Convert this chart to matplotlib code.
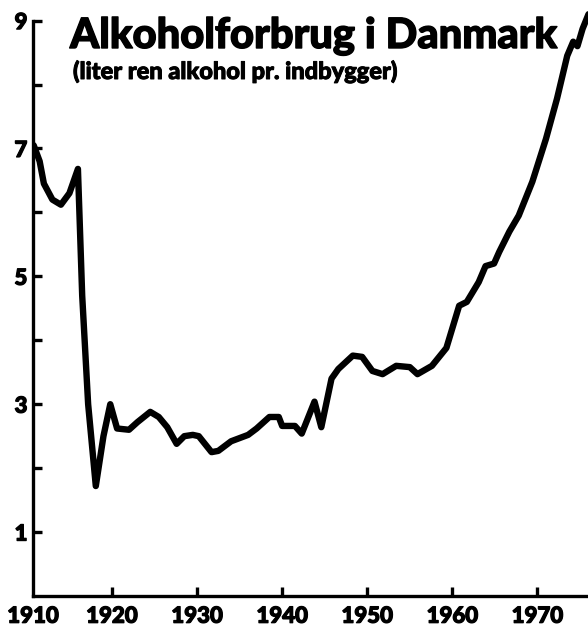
import numpy as np
import matplotlib.pyplot as plt
from matplotlib import transforms
import matplotlib.patheffects as pe

# liter ren alkohol pr. indbygger
years = [1910.8, 1911.5, 1912, 1913, 1914, 1915, 1916, 1916.5, 1917.2, 1918.1,
         1919, 1919.8, 1920.6, 1922, 1923, 1924.5, 1925.5, 1926.5, 1927.6, 1928.5,
         1929.5, 1930.2, 1931.7, 1932.5, 1934, 1936, 1937, 1938.5, 1939.6, 1940,
         1941.5, 1942.3, 1943.8, 1944.6, 1945.8, 1946.6, 1948.3, 1949.4, 1950.6, 1951.8,
         1953.4, 1955, 1955.9, 1957.6, 1959.3, 1960.8, 1961.7, 1963.1, 1963.9, 1964.9,
         1965.5, 1966.7, 1967.8, 1969.4, 1971, 1972.3, 1973.5, 1974.2, 1974.7, 1975.3,
         1976]
liters = [7.05, 6.8, 6.45, 6.2, 6.12, 6.3, 6.68, 4.7, 3.0, 1.72,
          2.5, 3.0, 2.62, 2.6, 2.72, 2.88, 2.8, 2.64, 2.38, 2.5,
          2.52, 2.5, 2.25, 2.27, 2.42, 2.52, 2.62, 2.8, 2.8, 2.66,
          2.66, 2.54, 3.04, 2.64, 3.4, 3.55, 3.76, 3.74, 3.52, 3.47,
          3.6, 3.58, 3.47, 3.6, 3.88, 4.54, 4.6, 4.91, 5.16, 5.2,
          5.38, 5.7, 5.95, 6.48, 7.15, 7.78, 8.45, 8.67, 8.6, 8.87,
          9.1]

x_ticks = [1920, 1930, 1940, 1950, 1960, 1970]
y_ticks = [1, 2, 3, 4, 5, 6, 7, 8, 9]
y_labels = ['1', '', '3', '', '5', '', '7', '', '9']

font = ['Lato', 'DejaVu Sans']
plt.rcParams['font.family'] = font

heavy = lambda w: [pe.withStroke(linewidth=w, foreground='black')]

fig = plt.figure(figsize=(5.88, 6.28), dpi=100)
ax = fig.add_axes([33 / 588, 32 / 628, 555 / 588, 585 / 628])

ax.plot(years, liters, color='black', lw=4.6, solid_joinstyle='round', solid_capstyle='round')

x0 = 1910.72
ax.set_xlim(x0, 1975.94)
ax.set_ylim(0, 9.15)

for s in ['top', 'right']:
    ax.spines[s].set_visible(False)
for s in ['left', 'bottom']:
    ax.spines[s].set_linewidth(2.4)
ax.spines['left'].set_bounds(0, 9)

ax.set_xticks(x_ticks)
ax.set_xticklabels([str(v) for v in x_ticks])
ax.set_yticks(y_ticks)
ax.set_yticklabels(y_labels)
ax.tick_params(direction='in', length=6.5, width=2.4, labelsize=16)
ax.tick_params(axis='x', pad=7)
ax.tick_params(axis='y', pad=4)
for lab in ax.get_xticklabels() + ax.get_yticklabels():
    lab.set_fontweight('black')
    lab.set_path_effects(heavy(0.9))

# the 1910 label sits under the corner of the axes
off = transforms.offset_copy(ax.get_xaxis_transform(), fig=fig, y=-7, units='points')
ax.text(x0, 0, '1910', transform=off, ha='center', va='top',
        fontsize=16, fontweight='black', path_effects=heavy(0.9))

fig.text(70 / 588, 1 - 48 / 628, 'Alkoholforbrug i Danmark', fontsize=30,
         fontweight='black', ha='left', va='baseline', path_effects=heavy(1.0))
fig.text(73 / 588, 1 - 79 / 628, '(liter ren alkohol pr. indbygger)', fontsize=17,
         fontweight='black', ha='left', va='baseline', path_effects=heavy(0.7))

fig.savefig('out.png', dpi=100)
